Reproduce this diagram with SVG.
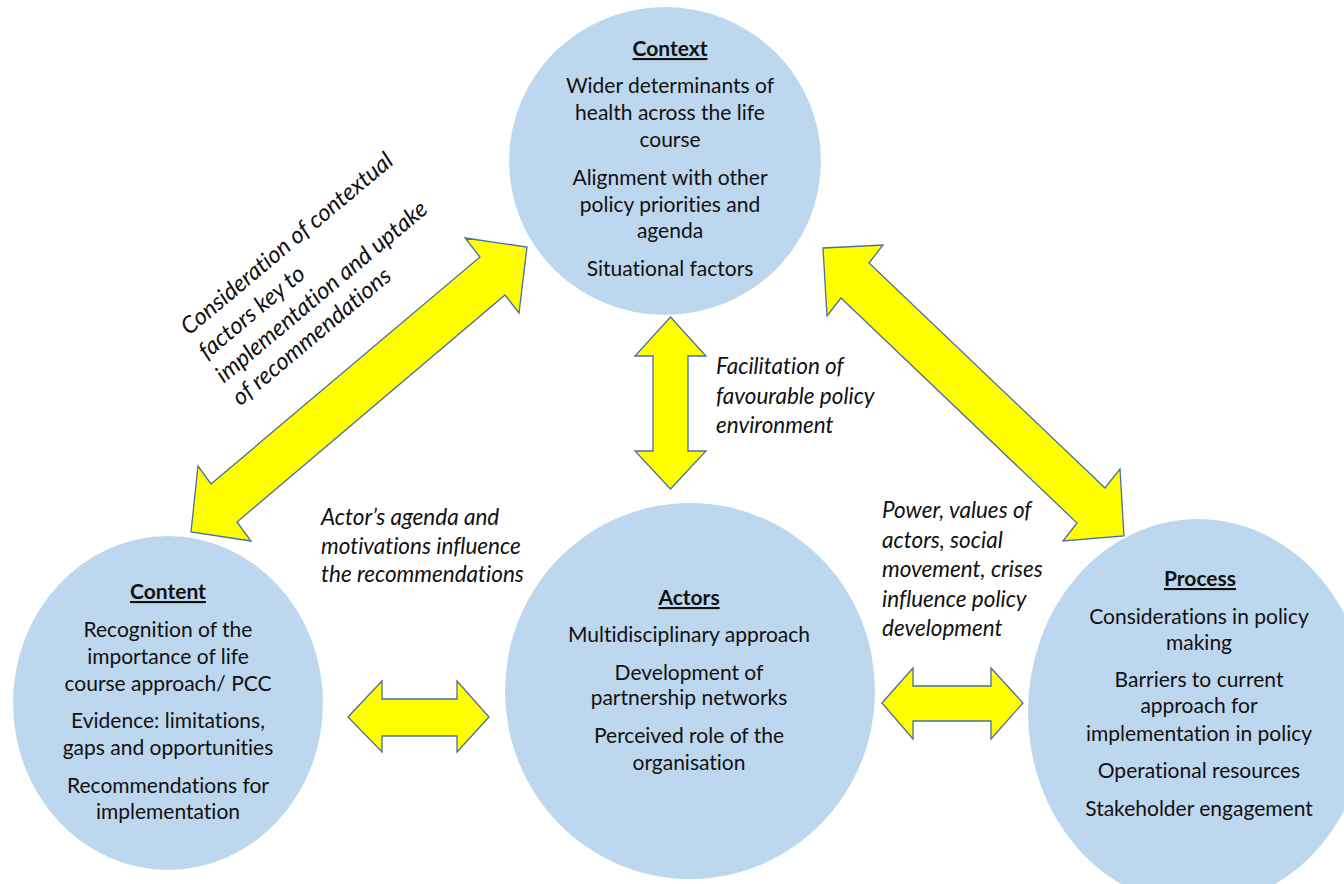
<svg xmlns="http://www.w3.org/2000/svg" width="1344" height="884" viewBox="0 0 1344 884">
  <style>
    text { font-variant-ligatures: none; }
    .bubble { fill: #BDD7EE; }
    .arrow { fill: #FFFF00; stroke: #4A6FA0; stroke-width: 1.3; stroke-linejoin: miter; }
    .title { font-family: Lato, "Liberation Sans", sans-serif; font-size: 21px; font-weight: bold; fill: #111; text-anchor: middle; text-decoration: underline; }
    .body { font-family: Lato, "Liberation Sans", sans-serif; font-size: 21px; fill: #111; text-anchor: middle; }
    .note { font-family: Lato, "Liberation Sans", sans-serif; font-size: 22.5px; font-style: italic; fill: #111; }
    .slant { font-size: 23.5px; }
  </style>
  <rect width="1344" height="884" fill="#FFFFFF"/>

  <!-- Context -->
  <g id="context">
    <ellipse class="bubble" cx="665" cy="161" rx="156" ry="154"/>
    <text class="title" x="670" y="56">Context</text>
    <text class="body" x="670" y="93">Wider determinants of</text>
    <text class="body" x="670" y="120">health across the life</text>
    <text class="body" x="670" y="147">course</text>
    <text class="body" x="670" y="185">Alignment with other</text>
    <text class="body" x="670" y="212">policy priorities and</text>
    <text class="body" x="670" y="238">agenda</text>
    <text class="body" x="670" y="276">Situational factors</text>
  </g>

  <!-- Content -->
  <g id="content">
    <ellipse class="bubble" cx="168" cy="703" rx="155" ry="167"/>
    <text class="title" x="168" y="599">Content</text>
    <text class="body" x="168" y="637">Recognition of the</text>
    <text class="body" x="168" y="664">importance of life</text>
    <text class="body" x="168" y="691">course approach/ PCC</text>
    <text class="body" x="168" y="728">Evidence: limitations,</text>
    <text class="body" x="168" y="755">gaps and opportunities</text>
    <text class="body" x="168" y="793">Recommendations for</text>
    <text class="body" x="168" y="819">implementation</text>
  </g>

  <!-- Actors -->
  <g id="actors">
    <ellipse class="bubble" cx="690" cy="691" rx="185" ry="188"/>
    <text class="title" x="689" y="605">Actors</text>
    <text class="body" x="689" y="642">Multidisciplinary approach</text>
    <text class="body" x="689" y="680">Development of</text>
    <text class="body" x="689" y="705">partnership networks</text>
    <text class="body" x="689" y="743">Perceived role of the</text>
    <text class="body" x="689" y="770">organisation</text>
  </g>

  <!-- Process -->
  <g id="process">
    <ellipse class="bubble" cx="1198" cy="712" rx="170" ry="193"/>
    <text class="title" x="1200" y="586">Process</text>
    <text class="body" x="1199" y="624">Considerations in policy</text>
    <text class="body" x="1199" y="650">making</text>
    <text class="body" x="1199" y="687">Barriers to current</text>
    <text class="body" x="1199" y="713">approach for</text>
    <text class="body" x="1199" y="741">implementation in policy</text>
    <text class="body" x="1199" y="778">Operational resources</text>
    <text class="body" x="1199" y="816">Stakeholder engagement</text>
  </g>

  <!-- Double-headed block arrows between the four areas -->
  <g id="connectors">
    <polygon class="arrow" points="527,247 519,313 505,295 237,522 251,541 191,532 198,466 211,484 480,257 465,238"/>
    <polygon class="arrow" points="823,248 883,245 869,263 1105,488 1120,469 1124,536 1063,541 1077,523 841,298 827,316"/>
    <polygon class="arrow" points="670.5,317 706,356 688,356 688,451 706,451 670.5,489 635,451 653,451 653,356 635,356"/>
    <polygon class="arrow" points="348,717 382,681 382,699 457,699 457,681 489,717 457,752 457,736 382,736 382,752"/>
    <polygon class="arrow" points="882,703 913,668 913,686 991,686 991,668 1023,703 991,739 991,721 913,721 913,739"/>
  </g>

  <!-- Relationship notes -->
  <g id="labels">
    <g transform="translate(189,336) rotate(-40)">
      <text class="note slant" x="0" y="0">Consideration of contextual</text>
      <text class="note slant" x="-2" y="30">factors key to</text>
      <text class="note slant" x="-4" y="59">implementation and uptake</text>
      <text class="note slant" x="-6" y="87">of recommendations</text>
    </g>
    <text class="note" x="716" y="374">Facilitation of</text>
    <text class="note" x="716" y="404">favourable policy</text>
    <text class="note" x="716" y="433">environment</text>
    <text class="note" x="321" y="525">Actor’s agenda and</text>
    <text class="note" x="321" y="554">motivations influence</text>
    <text class="note" x="321" y="582">the recommendations</text>
    <text class="note" x="882" y="518">Power, values of</text>
    <text class="note" x="882" y="548">actors, social</text>
    <text class="note" x="882" y="577">movement, crises</text>
    <text class="note" x="882" y="607">influence policy</text>
    <text class="note" x="882" y="636">development</text>
  </g>
</svg>
